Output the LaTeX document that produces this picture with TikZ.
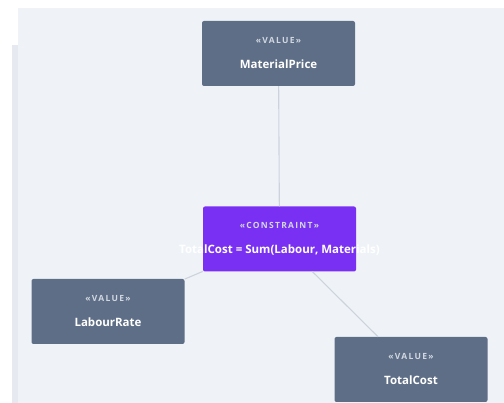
\documentclass[tikz,border=0pt]{standalone}
\usepackage{fontspec}
\setmainfont{Open Sans}
\usetikzlibrary{arrows,shapes,calc,positioning}
\definecolor{panelbg}{HTML}{EFF3F8}
\definecolor{stripbg}{HTML}{E6EAF0}
\definecolor{valuebox}{HTML}{5E6E86}
\definecolor{constbox}{HTML}{7A30F2}
\definecolor{edgegrey}{HTML}{CDD3DC}
\definecolor{stereo}{HTML}{D2D8E2}
\newcommand{\stereotag}[1]{{\fontsize{8.5}{9}\selectfont\bfseries\addfontfeature{LetterSpace=15}\color{stereo}«#1»}}
\begin{document}
\begin{tikzpicture}[x=1pt,y=-1pt]
			\tikzstyle{every node}=[font=\fontsize{11.5}{13}\selectfont]
			\tikzstyle{valuenode}=[fill=valuebox, rounded corners=2pt, minimum width=153pt, minimum height=65pt, inner sep=0pt, text=white, align=center]
			\tikzstyle{constnode}=[valuenode, fill=constbox]
			\tikzstyle{link}=[draw=edgegrey, line width=1.1pt]
			\useasboundingbox (0,0) rectangle (504,403);
			\fill [white] (0,0) rectangle (504,403);
			\fill [panelbg] (18,8) rectangle (504,403);
			\fill [stripbg] (12,45) rectangle (18,403);
			\node [valuenode] (matprice) at (278.5,53.5) {\stereotag{VALUE}\\[12pt]\bfseries MaterialPrice};
			\node [constnode] (totcons) at (279.5,239) {\stereotag{CONSTRAINT}\\[12pt]\makebox[0pt]{\bfseries TotalCost = Sum(Labour, Materials)}};
			\node [valuenode] (labrate) at (108,311.5) {\stereotag{VALUE}\\[12pt]\bfseries LabourRate};
			\node [valuenode] (totcost) at (411,369.5) {\stereotag{VALUE}\\[12pt]\bfseries TotalCost};
			\draw [link] (matprice) -- (totcons);
			\draw [link] (totcons) -- (labrate);
			\draw [link] (totcons) -- (totcost);
		\end{tikzpicture}
\end{document}
